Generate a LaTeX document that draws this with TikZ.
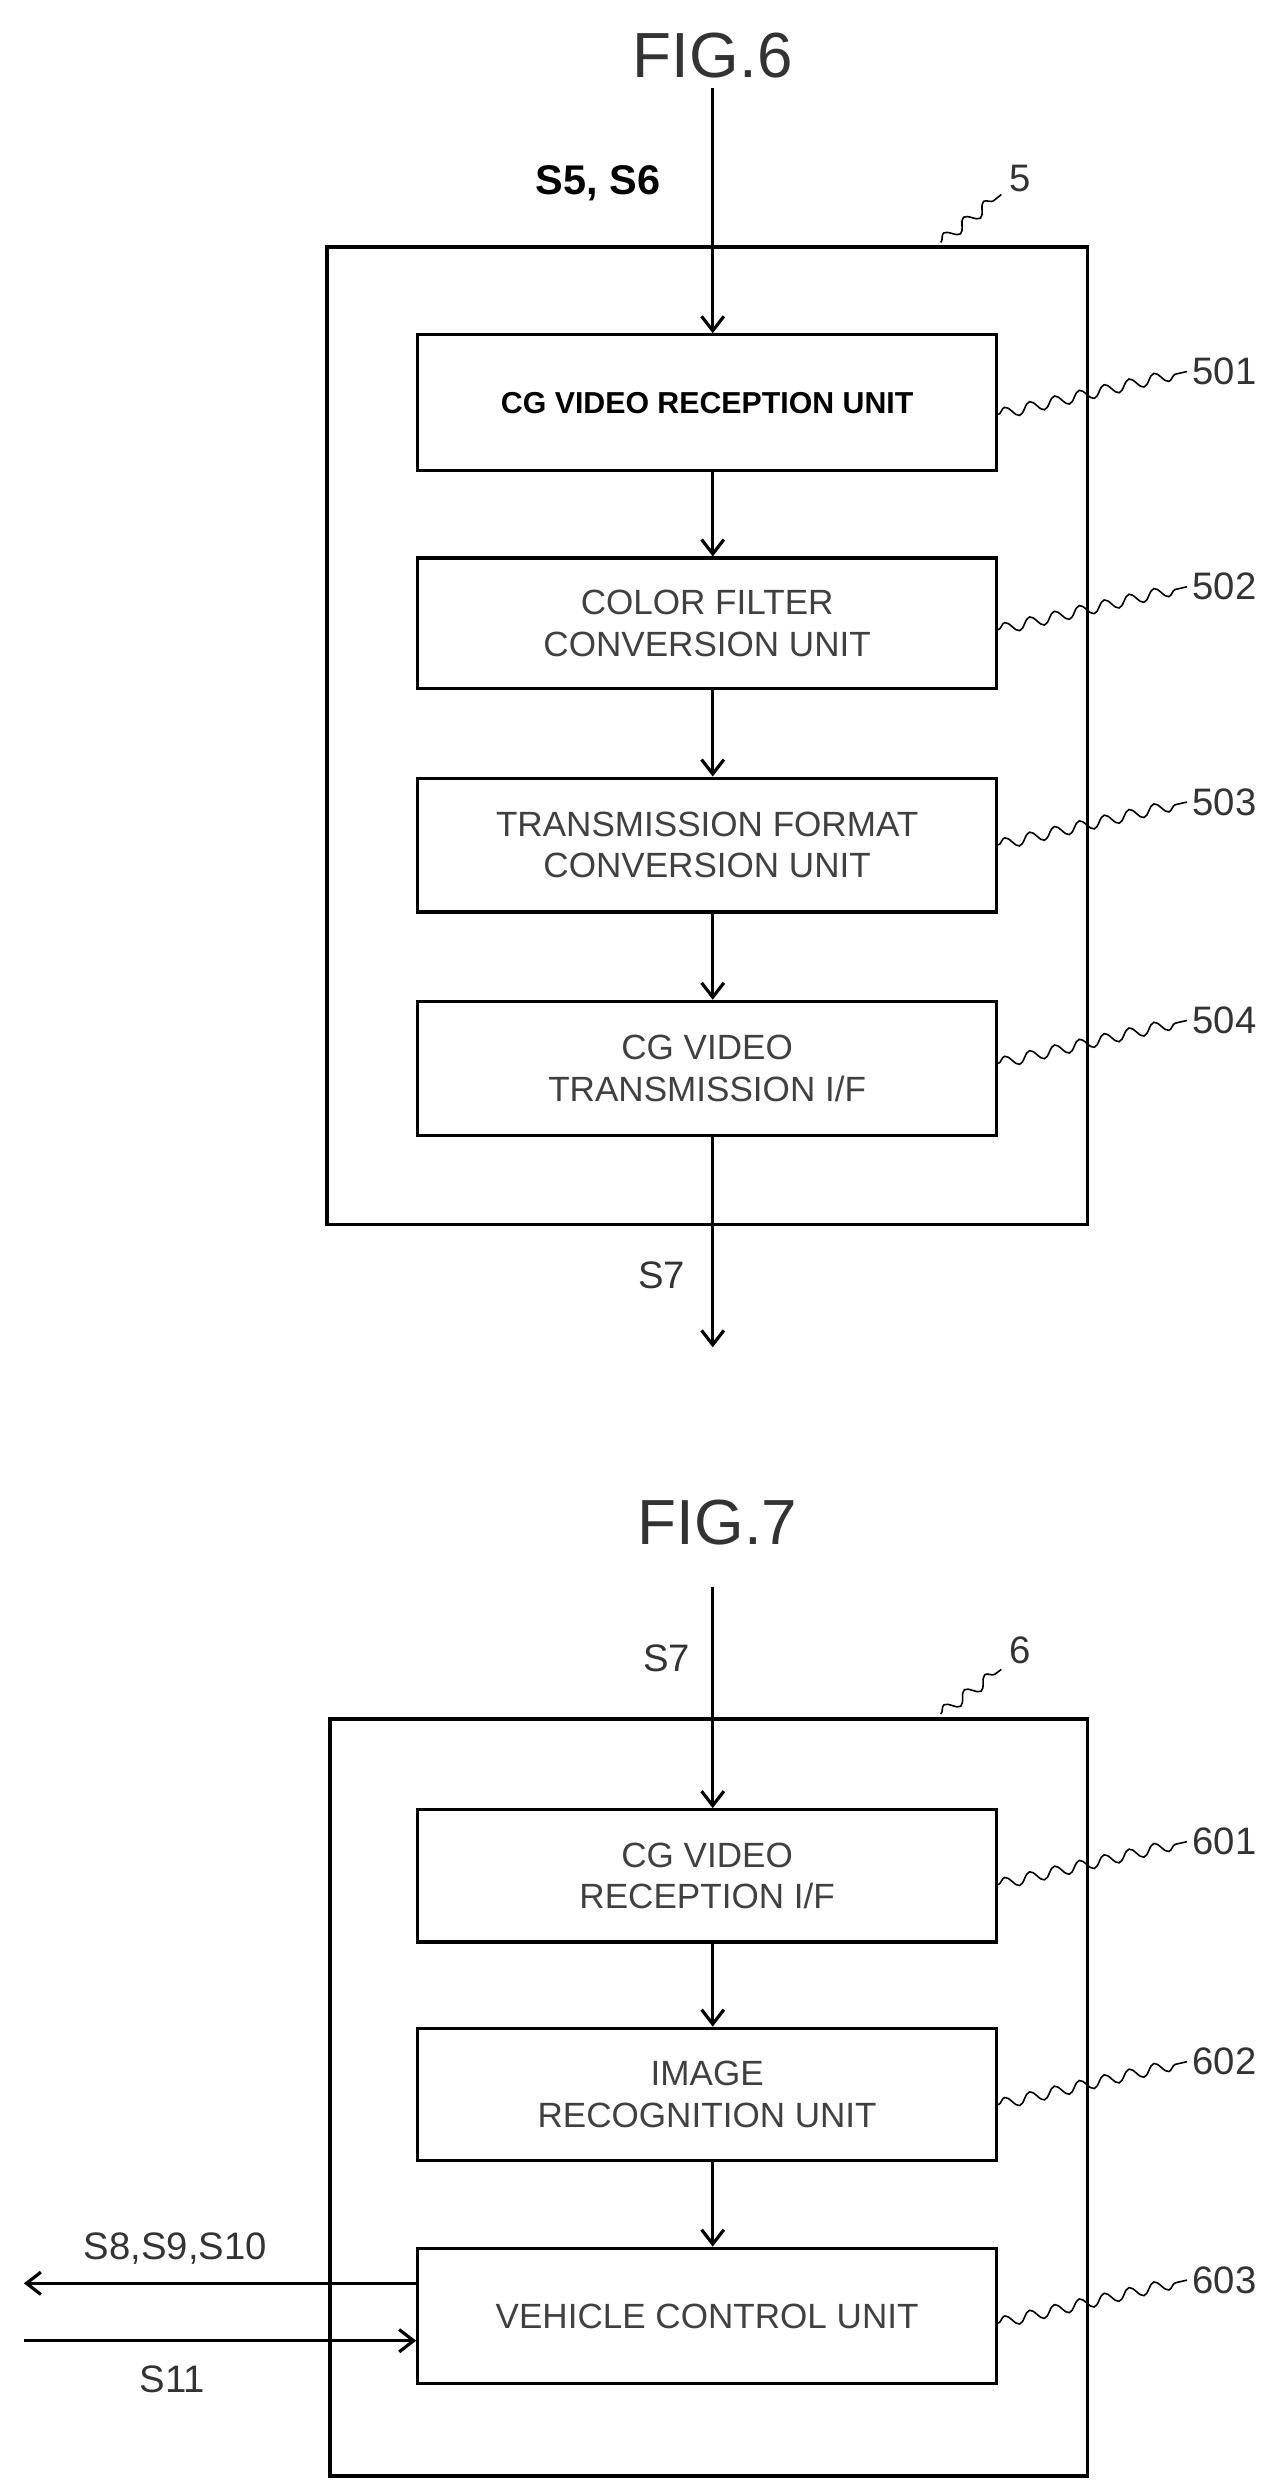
\documentclass[tikz,border=0pt]{standalone}
\usepackage{fontspec}
\setmainfont{Liberation Sans}
\usetikzlibrary{arrows.meta,decorations.pathmorphing}
\begin{document}
\begin{tikzpicture}[x=1pt,y=-1pt,
 box/.style={draw,line width=2pt,minimum width=363pt,align=center,font=\fontsize{22}{26}\selectfont,text=black!75},
 frame/.style={draw,line width=2.2pt},
 arr/.style={line width=2pt,-{Straight Barb[length=9pt,width=14pt]}},
 sq/.style={line width=1pt,decorate,decoration={snake,amplitude=3.5pt,segment length=16pt}},
 lab/.style={font=\fontsize{24}{28}\selectfont,text=black!80},
 title/.style={font=\fontsize{40}{44}\selectfont,text=black!80}]
\useasboundingbox (0,0) rectangle (800,1556);
% FIG.6
\node[title] (t6) at (447,35) {FIG.6};
\draw[frame] (205,155) rectangle (682,768);
\node[lab] (l5) at (640,112) {5};
\coordinate (c5) at (590,152); \draw[sq] (c5) -- (628,122);
\node[box,minimum height=85pt,font=\fontsize{19}{23}\selectfont\bfseries,text=black] (b501) at (443.5,252.5) {CG VIDEO RECEPTION UNIT};
\node[box,minimum height=82pt] (b502) at (443.5,391) {COLOR FILTER\\CONVERSION UNIT};
\node[box,minimum height=84pt] (b503) at (443.5,530) {TRANSMISSION FORMAT\\CONVERSION UNIT};
\node[box,minimum height=84pt] (b504) at (443.5,670) {CG VIDEO\\TRANSMISSION I/F};
\coordinate (in6) at (447,55);
\draw[arr] (in6) -- (b501.north -| in6);
\node[font=\fontsize{26}{30}\selectfont\bfseries] (s56) at (375,115) {S5, S6};
\draw[arr] (b501.south -| in6) -- (b502.north -| in6);
\draw[arr] (b502.south -| in6) -- (b503.north -| in6);
\draw[arr] (b503.south -| in6) -- (b504.north -| in6);
\coordinate (out6) at (447,845);
\draw[arr] (b504.south -| in6) -- (out6);
\node[lab] (s7a) at (415,800) {S7};
\foreach \n/\y in {501/233,502/368,503/503,504/640}{
 \node[lab] (l\n) at (768,\y) {\n};
 \draw[sq] (b\n.east |- 0,\y+27) -- (l\n.west);}
% FIG.7
\node[title] (t7) at (450,955) {FIG.7};
\draw[frame] (207,1078) rectangle (682,1553);
\node[lab] (l6) at (640,1035) {6};
\coordinate (c6) at (590,1075); \draw[sq] (c6) -- (628,1047);
\node[box,minimum height=83pt] (b601) at (443.5,1176.5) {CG VIDEO\\RECEPTION I/F};
\node[box,minimum height=83pt] (b602) at (443.5,1313.5) {IMAGE\\RECOGNITION UNIT};
\node[box,minimum height=85pt] (b603) at (443.5,1452.5) {VEHICLE CONTROL UNIT};
\coordinate (in7) at (447,995);
\draw[arr] (in7) -- (b601.north -| in7);
\node[lab] (s7b) at (418,1040) {S7};
\draw[arr] (b601.south -| in7) -- (b602.north -| in7);
\draw[arr] (b602.south -| in7) -- (b603.north -| in7);
\foreach \n/\y in {601/1155,602/1293,603/1430}{
 \node[lab] (l\n) at (768,\y) {\n};
 \draw[sq] (b\n.east |- 0,\y+27) -- (l\n.west);}
\coordinate (o1) at (15,1432);
\coordinate (o2) at (15,1468);
\draw[arr] (b603.west |- o1) -- (o1);
\draw[arr] (o2) -- (b603.west |- o2);
\node[lab] (s8) at (110,1410) {S8,S9,S10};
\node[lab] (s11) at (108,1492) {S11};
\end{tikzpicture}
\end{document}
